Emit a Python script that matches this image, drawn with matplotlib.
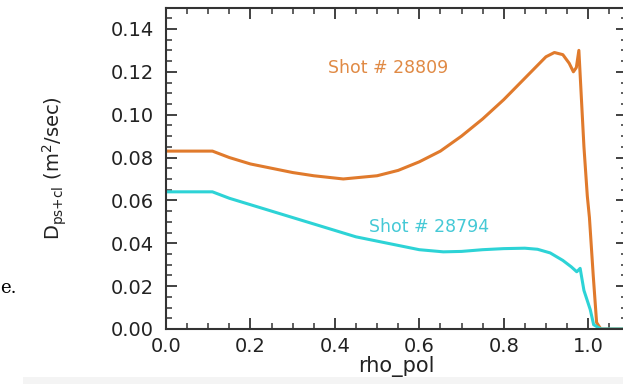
import matplotlib
matplotlib.use("Agg")
import matplotlib.pyplot as plt
from matplotlib.ticker import MultipleLocator
from matplotlib.patches import Rectangle

# Data
x_28809 = [0.0, 0.05, 0.11, 0.15, 0.2, 0.25, 0.3, 0.35, 0.42, 0.5, 0.55, 0.6, 0.65,
           0.7, 0.75, 0.8, 0.85, 0.9, 0.92, 0.94, 0.955, 0.965, 0.972, 0.978, 0.99,
           0.998, 1.003, 1.012, 1.02, 1.03, 1.1]
y_28809 = [0.083, 0.083, 0.083, 0.080, 0.077, 0.075, 0.073, 0.0715, 0.070, 0.0715,
           0.074, 0.078, 0.083, 0.090, 0.098, 0.107, 0.117, 0.127, 0.129, 0.128,
           0.124, 0.120, 0.122, 0.130, 0.085, 0.062, 0.052, 0.025, 0.003, 0.0, 0.0]

x_28794 = [0.0, 0.05, 0.11, 0.15, 0.2, 0.25, 0.3, 0.35, 0.4, 0.45, 0.5, 0.55, 0.6,
           0.657, 0.7, 0.75, 0.8, 0.85, 0.88, 0.91, 0.94, 0.96, 0.973, 0.981, 0.99,
           1.0, 1.005, 1.013, 1.03, 1.1]
y_28794 = [0.064, 0.064, 0.064, 0.061, 0.058, 0.055, 0.052, 0.049, 0.046, 0.043,
           0.041, 0.039, 0.037, 0.036, 0.0362, 0.037, 0.0375, 0.0377, 0.0372, 0.0355,
           0.032, 0.029, 0.0267, 0.0283, 0.018, 0.012, 0.009, 0.002, 0.0, 0.0]

label_28809 = "Shot # 28809"
label_28794 = "Shot # 28794"
x_label = "rho_pol"
y_label = r"D$_{\rm ps{+}cl}$ (m$^2$/sec)"

orange = "#E07A2C"
cyan = "#2DD3D6"

plt.rcParams['font.family'] = ['DejaVu Sans']

fig = plt.figure(figsize=(6.23, 3.84), dpi=100)
fig.patch.set_facecolor("white")
# faint grey band at the bottom of the scanned page
fig.patches.append(Rectangle((23 / 623, 0), 1, 7 / 384, transform=fig.transFigure,
                             facecolor="#f4f4f4", edgecolor="none", zorder=0))

ax = fig.add_axes([166 / 623, 55 / 384, 461 / 623, 321.5 / 384])
ax.plot(x_28809, y_28809, color=orange, lw=2.2, solid_joinstyle="round")
ax.plot(x_28794, y_28794, color=cyan, lw=2.2, solid_joinstyle="round")

ax.text(0.526, 0.122, label_28809, color="#E08A45", fontsize=12.5,
        ha="center", va="center")
ax.text(0.623, 0.0477, label_28794, color="#45C9D6", fontsize=12.5,
        ha="center", va="center")

ax.set_xlim(0, 1.092)
ax.set_ylim(0, 0.15)
ax.xaxis.set_minor_locator(MultipleLocator(0.05))
ax.yaxis.set_minor_locator(MultipleLocator(0.005))
ax.set_xticks([0.0, 0.2, 0.4, 0.6, 0.8, 1.0])
ax.set_xticklabels(["0.0", "0.2", "0.4", "0.6", "0.8", "1.0"])
ax.set_yticks([0.0, 0.02, 0.04, 0.06, 0.08, 0.10, 0.12, 0.14])
ax.set_yticklabels(["0.00", "0.02", "0.04", "0.06", "0.08", "0.10", "0.12", "0.14"])

ax.tick_params(which="both", direction="in", top=True, right=True,
               color="#333333", labelcolor="#222222", labelsize=14)
ax.tick_params(which="major", length=8, width=1.3)
ax.tick_params(which="minor", length=4, width=1.1)
ax.tick_params(axis="y", pad=9)
ax.tick_params(axis="x", pad=6)
for s in ax.spines.values():
    s.set_color("#333333")
    s.set_linewidth(1.5)

ax.set_xlabel(x_label, fontsize=15, color="#222222", labelpad=0)
ax.set_ylabel(y_label, fontsize=14, color="#222222", labelpad=30)

# fragment of surrounding page text
fig.text(0.0, 1 - 293 / 384, "e.", fontsize=13, family="DejaVu Serif",
         ha="left", va="baseline", color="black")

fig.savefig("out.png", dpi=100)
